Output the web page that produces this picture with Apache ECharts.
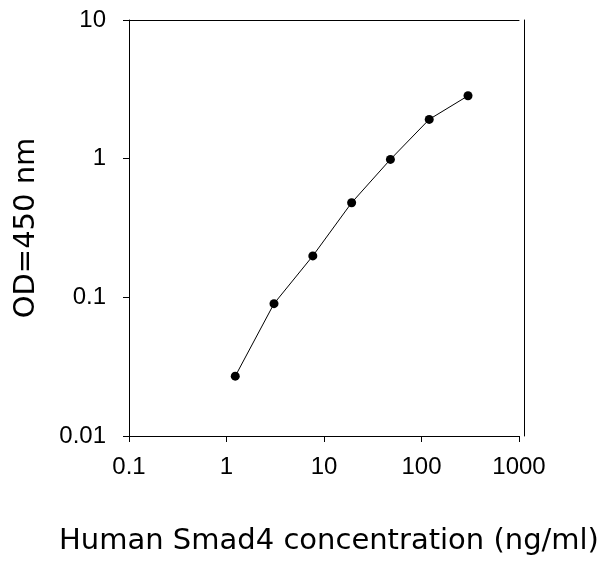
<!DOCTYPE html>
<html>
<head>
<meta charset="utf-8">
<script src="https://cdn.jsdelivr.net/npm/echarts@6/dist/echarts.min.js"></script>
<style>
  html, body { margin: 0; padding: 0; background: #fff; }
  #chart { width: 598px; height: 562px; }
</style>
</head>
<body>
<div id="chart"></div>
<script>
// standard curve, 2.5-fold dilutions
const concentration = [1.23, 3.07, 7.68, 19.2, 48, 120, 300];
const od450 = [0.027, 0.090, 0.199, 0.481, 0.988, 1.92, 2.84];

const xTickLabels = ["0.1", "1", "10", "100", "1000"];
const yTickLabels = ["0.01", "0.1", "1", "10"];

const chart = echarts.init(document.getElementById("chart"));

const labelFont = { color: "#000", fontFamily: "'Liberation Sans', Arial, sans-serif", fontSize: 24 };
const nameFont = { color: "#000", fontFamily: "'DejaVu Sans', sans-serif", fontSize: 29 };
const blackLine = { lineStyle: { color: "#000", width: 1 } };

chart.setOption({
  animation: false,
  backgroundColor: "#fff",
  grid: { left: 129, right: 79, top: 20, bottom: 126, outerBoundsMode: "none" },
  xAxis: [
    {
      type: "log",
      logBase: 10,
      min: 0.1,
      max: 1000,
      name: "Human Smad4 concentration (ng/ml)",
      nameLocation: "middle",
      nameGap: 91,
      nameTextStyle: { ...nameFont, padding: [0, 0, 0, 10] },
      axisLine: blackLine,
      axisTick: { show: true, length: 6, ...blackLine },
      axisLabel: { ...labelFont, margin: 19, formatter: (v, i) => xTickLabels[i] },
      splitLine: { show: false },
    },
    {
      // top frame line
      type: "log",
      position: "top",
      min: 0.1,
      max: 1000,
      axisLine: blackLine,
      axisTick: { show: false },
      axisLabel: { show: false },
      splitLine: { show: false },
    },
  ],
  yAxis: [
    {
      type: "log",
      logBase: 10,
      min: 0.01,
      max: 10,
      name: "OD=450 nm",
      nameLocation: "middle",
      nameGap: 88,
      nameTextStyle: nameFont,
      axisLine: blackLine,
      axisTick: { show: true, length: 6, ...blackLine },
      axisLabel: { ...labelFont, margin: 23, formatter: (v, i) => yTickLabels[i] },
      splitLine: { show: false },
    },
    {
      // right frame line, sits a little off the plot edge
      type: "log",
      position: "right",
      offset: 5,
      min: 0.01,
      max: 10,
      axisLine: blackLine,
      axisTick: { show: false },
      axisLabel: { show: false },
      splitLine: { show: false },
    },
  ],
  series: [
    {
      type: "line",
      xAxisIndex: 0,
      yAxisIndex: 0,
      data: concentration.map((c, i) => [c, od450[i]]),
      symbol: "circle",
      symbolSize: 9,
      itemStyle: { color: "#000" },
      lineStyle: { color: "#000", width: 1 },
    },
  ],
});
</script>
</body>
</html>
